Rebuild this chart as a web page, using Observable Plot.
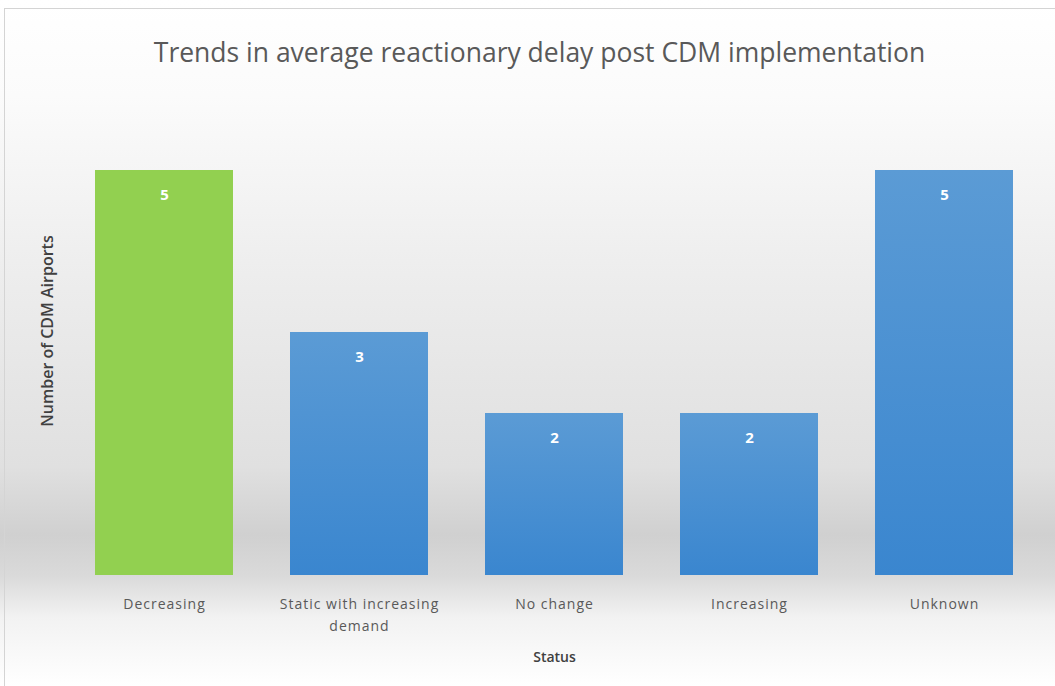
<!DOCTYPE html>
<html>
<head>
<meta charset="utf-8">
<script src="https://cdn.jsdelivr.net/npm/d3@7"></script>
<script src="https://cdn.jsdelivr.net/npm/@observablehq/plot@0.6"></script>
<style>
  html, body { margin: 0; padding: 0; background: #ffffff; }
  #wrap { position: relative; width: 1055px; height: 686px; overflow: hidden; }
  #frame { position: absolute; left: 4px; top: 8px; width: 1060px; height: 690px; border: 1px solid #d4d4d4; box-sizing: border-box; pointer-events: none; }
  svg { display: block; }
  g[aria-label="x-axis tick label"] text { letter-spacing: 1px; }
  g[aria-label="chart-title"] text { letter-spacing: 0.8px; }
  g[aria-label="y-title"] text { letter-spacing: 1.5px; }
  g[aria-label="x-title"] text { letter-spacing: 1px; }
</style>
</head>
<body>
<div id="wrap"><div id="frame"></div></div>
<script>
const title = "Trends in average reactionary delay post CDM implementation";
const xTitle = "Status";
const yTitle = "Number of CDM Airports";
const categories = ["Decreasing", "Static with increasing demand", "No change", "Increasing", "Unknown"];
const counts = [5, 3, 2, 2, 5];
const barFills = ["#92d050", "url(#blueGrad)", "url(#blueGrad)", "url(#blueGrad)", "url(#blueGrad)"];

const data = categories.map((c, i) => ({status: c, count: counts[i], fill: barFills[i]}));

const defs = () => {
  const g = d3.create("svg:defs");
  const lg = g.append("linearGradient").attr("id", "blueGrad").attr("x1", 0).attr("y1", 0).attr("x2", 0).attr("y2", 1);
  lg.append("stop").attr("offset", "0%").attr("stop-color", "#5b9bd5");
  lg.append("stop").attr("offset", "100%").attr("stop-color", "#3a86cf");
  return g.node();
};

const chart = Plot.plot({
  width: 1055,
  height: 686,
  marginTop: 170,
  marginBottom: 111,
  marginLeft: 54,
  marginRight: 1,
  style: {
    background: "linear-gradient(to bottom, #ffffff 0%, #fbfbfb 14%, #ededed 40%, #e0e0e0 68%, #d0d0d0 78%, #dadada 84%, #f2f2f2 90%, #ffffff 100%)",
    fontFamily: "'Open Sans', Lato, sans-serif"
  },
  x: {domain: categories, paddingInner: 0.29, paddingOuter: 0.2, label: null},
  y: {domain: [0, 5], axis: null},
  marks: [
    defs,
    Plot.barY(data, {x: "status", y: "count", fill: "fill"}),
    Plot.text(data, {x: "status", y: "count", text: d => String(d.count), dy: 25, fill: "#ffffff", fontSize: 15, fontWeight: "bold"}),
    Plot.axisX({tickSize: 0, tickPadding: 18, fontSize: 14, fill: "#595959", lineWidth: 13, lineHeight: 1.55, label: null}),
    Plot.text([xTitle], {ariaLabel: "x-title", frameAnchor: "bottom", dy: 86, text: d => d, fontSize: 14, fontWeight: 600, fill: "#404040"}),
    Plot.text([yTitle], {ariaLabel: "y-title", frameAnchor: "left", textAnchor: "middle", dx: -7, dy: -42, rotate: -90, text: d => d, fontSize: 16, fontWeight: 600, fill: "#404040"}),
    Plot.text([title], {ariaLabel: "chart-title", frameAnchor: "top", dx: -15, dy: -127, text: d => d, fontSize: 26.5, fill: "#595959"})
  ]
});
document.getElementById("wrap").insertBefore(chart, document.getElementById("frame"));
</script>
</body>
</html>
